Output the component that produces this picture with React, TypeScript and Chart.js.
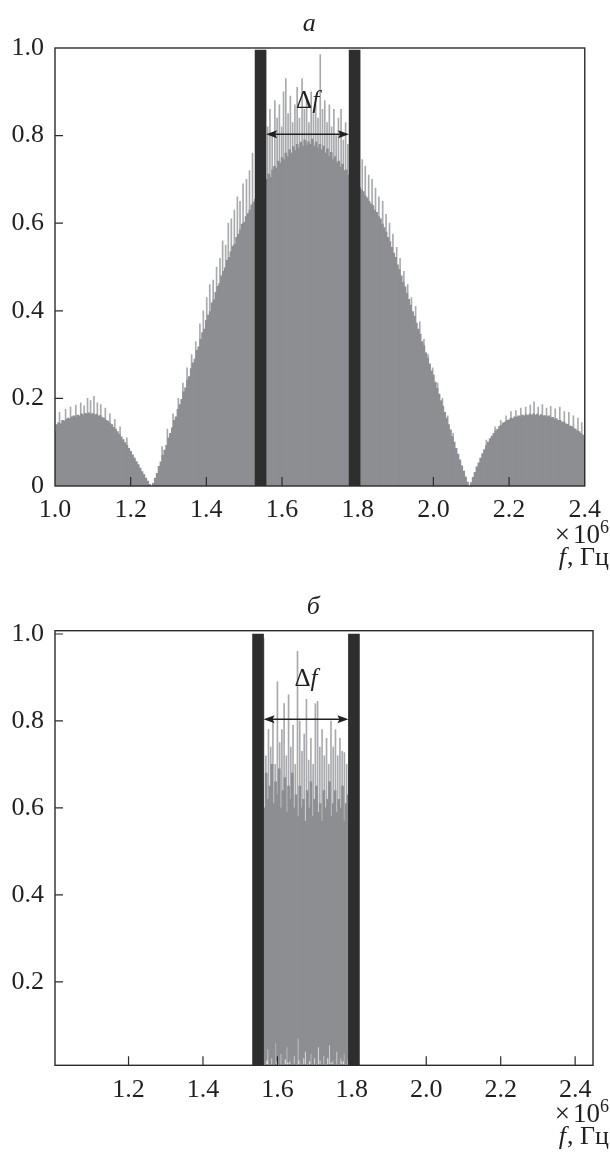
import React, { useEffect, useRef } from "react";
import { Chart, registerables } from "chart.js";

Chart.register(...registerables);

const SERIF = "'Liberation Serif', 'Times New Roman', Times, serif";
const TEXT = "#231f20";
const AXIS = "#2b2b2b";
const BODY = "#8d8e92";
const SPIKE = "#a9aaad";
const MARK = "#2e2e2e";

// ---------------- Chart a ----------------
const freqStep = 0.005;
const freqStartA = 1.0;
const bodyA_lobeLeft = [
  0.125, 0.140, 0.145, 0.142, 0.150, 0.148, 0.152, 0.155, 0.153, 0.158,
  0.160, 0.157, 0.162, 0.160, 0.165, 0.162, 0.166, 0.164, 0.167, 0.163,
  0.166, 0.162, 0.164, 0.160, 0.161, 0.156, 0.155, 0.150, 0.148, 0.143,
  0.140, 0.134, 0.130, 0.124, 0.118, 0.112, 0.106, 0.099, 0.093, 0.086,
  0.079, 0.071, 0.064, 0.056, 0.049, 0.041, 0.033, 0.026, 0.018, 0.011,
  0.004, 0.000,
];
const bodyA_riseLeft = [
  0.006, 0.018, 0.029, 0.045, 0.055, 0.070, 0.082, 0.093, 0.110, 0.120,
  0.133, 0.150, 0.158, 0.175, 0.186, 0.198, 0.215, 0.224, 0.242, 0.250,
  0.268, 0.281, 0.290, 0.310, 0.318, 0.335, 0.350, 0.358, 0.378, 0.390,
  0.398, 0.418, 0.425, 0.442, 0.456, 0.462, 0.480, 0.490, 0.498, 0.515,
  0.522, 0.535, 0.548, 0.552, 0.568, 0.575, 0.585, 0.598, 0.602, 0.615,
  0.622, 0.630, 0.642, 0.648, 0.655,
];
const bodyA_center = [
  0.662, 0.670, 0.675, 0.684, 0.690, 0.700, 0.712, 0.705, 0.722, 0.730,
  0.725, 0.742, 0.738, 0.750, 0.745, 0.760, 0.752, 0.768, 0.760, 0.775,
  0.766, 0.780, 0.772, 0.785, 0.776, 0.790, 0.778, 0.786, 0.780, 0.792,
  0.776, 0.785, 0.772, 0.780, 0.768, 0.776, 0.760, 0.770, 0.752, 0.762,
  0.745, 0.752, 0.738, 0.742, 0.728, 0.735, 0.720, 0.722, 0.710, 0.712,
  0.700, 0.702, 0.690, 0.688,
];
const bodyA_fallRight = [
  0.682, 0.676, 0.672, 0.662, 0.658, 0.650, 0.644, 0.640, 0.630, 0.625,
  0.615, 0.610, 0.598, 0.590, 0.580, 0.568, 0.558, 0.545, 0.532, 0.522,
  0.505, 0.494, 0.480, 0.465, 0.455, 0.440, 0.426, 0.413, 0.398, 0.388,
  0.372, 0.358, 0.347, 0.330, 0.320, 0.304, 0.292, 0.279, 0.263, 0.253,
  0.237, 0.223, 0.210, 0.195, 0.182, 0.168, 0.155, 0.140, 0.128, 0.113,
  0.100, 0.086, 0.073, 0.060, 0.046, 0.034, 0.021, 0.009, 0.000,
];
const bodyA_lobeRight = [
  0.008, 0.020, 0.031, 0.044, 0.053, 0.064, 0.074, 0.083, 0.092, 0.100,
  0.108, 0.114, 0.120, 0.126, 0.130, 0.136, 0.139, 0.144, 0.146, 0.150,
  0.151, 0.155, 0.154, 0.158, 0.157, 0.160, 0.158, 0.162, 0.160, 0.163,
  0.161, 0.164, 0.162, 0.165, 0.162, 0.164, 0.160, 0.163, 0.160, 0.161,
  0.158, 0.160, 0.156, 0.157, 0.153, 0.154, 0.150, 0.150, 0.146, 0.146,
  0.142, 0.141, 0.137, 0.136, 0.132, 0.130, 0.126, 0.124, 0.120, 0.116,
  0.105,
];
const bodyA = [
  ...bodyA_lobeLeft,
  ...bodyA_riseLeft,
  ...bodyA_center,
  ...bodyA_fallRight,
  ...bodyA_lobeRight,
];
// thin spikes [frequency, level]
const spikesA_lobeLeft = [
  [1.012, 0.168], [1.028, 0.175], [1.041, 0.18], [1.055, 0.185], [1.068, 0.19],
  [1.077, 0.183], [1.086, 0.2], [1.094, 0.195], [1.103, 0.205], [1.112, 0.19],
  [1.121, 0.186], [1.133, 0.178], [1.145, 0.165], [1.158, 0.152], [1.172, 0.135],
  [1.19, 0.11],
];
const spikesA_riseLeft = [
  [1.283, 0.09], [1.297, 0.13], [1.312, 0.165], [1.326, 0.2], [1.338, 0.235],
  [1.349, 0.27], [1.361, 0.3], [1.372, 0.33], [1.383, 0.37], [1.392, 0.4],
  [1.401, 0.43], [1.409, 0.46], [1.418, 0.47], [1.427, 0.5], [1.436, 0.52],
  [1.443, 0.56], [1.451, 0.55], [1.458, 0.6], [1.466, 0.61], [1.474, 0.63],
  [1.482, 0.66], [1.489, 0.65], [1.497, 0.69], [1.506, 0.7], [1.514, 0.72],
  [1.522, 0.76],
];
const spikesA_center = [
  [1.562, 0.82], [1.568, 0.86], [1.574, 0.8], [1.581, 0.88], [1.587, 0.84],
  [1.593, 0.87], [1.599, 0.82], [1.604, 0.9], [1.61, 0.93], [1.616, 0.85],
  [1.622, 0.89], [1.628, 0.83], [1.634, 0.87], [1.64, 0.91], [1.646, 0.84],
  [1.653, 0.93], [1.659, 0.86], [1.665, 0.88], [1.671, 0.83], [1.677, 0.9],
  [1.683, 0.85], [1.689, 0.87], [1.695, 0.84], [1.701, 0.985], [1.707, 0.86],
  [1.713, 0.88], [1.719, 0.83], [1.725, 0.87], [1.731, 0.82], [1.737, 0.86],
  [1.743, 0.8], [1.749, 0.84], [1.756, 0.86], [1.762, 0.79], [1.768, 0.83],
  [1.774, 0.78],
];
const spikesA_fallRight = [
  [1.812, 0.745], [1.82, 0.73], [1.829, 0.71], [1.838, 0.7], [1.847, 0.68],
  [1.856, 0.66], [1.866, 0.65], [1.875, 0.62], [1.884, 0.6], [1.893, 0.575],
  [1.903, 0.545], [1.912, 0.52], [1.922, 0.49], [1.932, 0.46], [1.942, 0.43],
  [1.953, 0.41], [1.964, 0.375], [1.975, 0.335], [1.986, 0.3], [1.998, 0.27],
  [2.011, 0.235], [2.024, 0.2], [2.038, 0.16], [2.052, 0.12],
];
const spikesA_lobeRight = [
  [2.14, 0.105], [2.163, 0.135], [2.178, 0.15], [2.192, 0.16], [2.205, 0.17],
  [2.218, 0.172], [2.231, 0.178], [2.244, 0.18], [2.256, 0.185], [2.266, 0.192],
  [2.277, 0.18], [2.288, 0.186], [2.299, 0.178], [2.31, 0.182], [2.322, 0.176],
  [2.334, 0.18], [2.346, 0.17], [2.358, 0.168], [2.37, 0.16], [2.382, 0.155],
  [2.392, 0.145],
];
const spikesA = [
  ...spikesA_lobeLeft,
  ...spikesA_riseLeft,
  ...spikesA_center,
  ...spikesA_fallRight,
  ...spikesA_lobeRight,
];
const markersA = [1.5433, 1.7918];
const markerTopA = 0.995;
const arrowLevelA = 0.803;
const deltaLabelLevelA = 0.877;
const xTicksA = [1.0, 1.2, 1.4, 1.6, 1.8, 2.0, 2.2, 2.4];
const xTickLabelsA = ["1.0", "1.2", "1.4", "1.6", "1.8", "2.0", "2.2", "2.4"];
const yTicksA = [0, 0.2, 0.4, 0.6, 0.8, 1.0];
const yTickLabelsA = ["0", "0.2", "0.4", "0.6", "0.8", "1.0"];
const xRangeA = [1.0, 2.4];
const yRangeA = [0, 1.0];

// ---------------- Chart б ----------------
const freqStartB = 1.555;
const bodyB_high = [
  0.640, 0.660, 0.600, 0.680, 0.620, 0.650, 0.700, 0.610, 0.660, 0.630,
  0.690, 0.600, 0.640, 0.670, 0.590, 0.650, 0.620, 0.680, 0.600, 0.630,
  0.580, 0.650, 0.600, 0.620, 0.570, 0.640, 0.600, 0.660, 0.580, 0.620,
  0.650, 0.590, 0.610, 0.570, 0.640, 0.600, 0.620, 0.660, 0.580, 0.610,
  0.640, 0.590, 0.620, 0.600, 0.650, 0.570, 0.610, 0.630, 0.590, 0.600,
];
const bodyB_low = [
  0.015, 0.030, 0.012, 0.020, 0.045, 0.012, 0.025, 0.012, 0.060, 0.018,
  0.012, 0.035, 0.012, 0.022, 0.050, 0.015, 0.020, 0.012, 0.030, 0.012,
  0.070, 0.020, 0.012, 0.025, 0.040, 0.012, 0.018, 0.035, 0.012, 0.025,
  0.012, 0.050, 0.020, 0.012, 0.030, 0.012, 0.025, 0.055, 0.015, 0.020,
  0.012, 0.040, 0.012, 0.025, 0.018, 0.035, 0.012, 0.020, 0.012, 0.030,
];
const spikesB = [
  [1.558, 0.76], [1.563, 0.99], [1.569, 0.72], [1.576, 0.78], [1.582, 0.74],
  [1.588, 0.8], [1.594, 0.7], [1.6, 0.89], [1.606, 0.75], [1.612, 0.78],
  [1.618, 0.84], [1.624, 0.72], [1.63, 0.86], [1.636, 0.74], [1.642, 0.79],
  [1.648, 0.7], [1.654, 0.96], [1.66, 0.8], [1.666, 0.73], [1.672, 0.77],
  [1.678, 0.85], [1.684, 0.71], [1.69, 0.76], [1.696, 0.7], [1.702, 0.84],
  [1.708, 0.845], [1.714, 0.74], [1.72, 0.78], [1.726, 0.72], [1.732, 0.76],
  [1.738, 0.7], [1.744, 0.8], [1.75, 0.74], [1.756, 0.78], [1.762, 0.72],
  [1.768, 0.76], [1.774, 0.73], [1.78, 0.727], [1.786, 0.7], [1.792, 0.69],
];
const markersB = [1.548, 1.8056];
const markerTopB = 1.0;
const arrowLevelB = 0.804;
const deltaLabelLevelB = 0.895;
const xTicksB = [1.2, 1.4, 1.6, 1.8, 2.0, 2.2, 2.4];
const xTickLabelsB = ["1.2", "1.4", "1.6", "1.8", "2.0", "2.2", "2.4"];
const yTicksB = [0.2, 0.4, 0.6, 0.8, 1.0];
const yTickLabelsB = ["0.2", "0.4", "0.6", "0.8", "1.0"];
const xRangeB = [1.0024, 2.448];
const yRangeB = [0.008, 1.0076];

type PanelCfg = {
  title: string;
  top: number;
  height: number;
  padTop: number;
  xAxisHeight: number;
  body: { x: number; y: number | number[] }[];
  spikes: { x: number; y: number }[];
  markers: number[];
  markerLow: number;
  markerTop: number;
  arrowLevel: number;
  labelLevel: number;
  xTicks: number[];
  xTickLabels: string[];
  yTicks: number[];
  yTickLabels: string[];
  xRange: number[];
  yRange: number[];
};

const MARKER_W = 11;
const FONT_SIZE = 26;

function makeDecor(cfg: PanelCfg) {
  return {
    id: "decor",
    afterDatasetsDraw(chart: any) {
      const { ctx, chartArea: ca } = chart;
      const xs = chart.scales.x;
      const ys = chart.scales.y;
      ctx.save();
      // frame
      ctx.strokeStyle = AXIS;
      ctx.lineWidth = 1.4;
      ctx.strokeRect(ca.left, ca.top, ca.right - ca.left, ca.bottom - ca.top);
      // inner ticks
      ctx.lineWidth = 1.2;
      ctx.beginPath();
      for (const t of xs.ticks) {
        const px = xs.getPixelForValue(t.value);
        if (px > ca.left + 1 && px < ca.right - 1) {
          ctx.moveTo(px, ca.bottom);
          ctx.lineTo(px, ca.bottom - 9);
        }
      }
      for (const t of ys.ticks) {
        const py = ys.getPixelForValue(t.value);
        if (py > ca.top + 1 && py < ca.bottom - 1) {
          ctx.moveTo(ca.left, py);
          ctx.lineTo(ca.left + 8, py);
        }
      }
      ctx.stroke();

      // Δf arrow between the inner edges of the two markers
      const xl = xs.getPixelForValue(cfg.markers[0]) + MARKER_W / 2;
      const xr = xs.getPixelForValue(cfg.markers[1]) - MARKER_W / 2;
      const ya = ys.getPixelForValue(cfg.arrowLevel);
      ctx.strokeStyle = TEXT;
      ctx.fillStyle = TEXT;
      ctx.lineWidth = 1.4;
      ctx.beginPath();
      ctx.moveTo(xl + 4, ya);
      ctx.lineTo(xr - 4, ya);
      ctx.stroke();
      ctx.beginPath();
      ctx.moveTo(xl, ya);
      ctx.lineTo(xl + 11, ya - 4);
      ctx.lineTo(xl + 9, ya);
      ctx.lineTo(xl + 11, ya + 4);
      ctx.closePath();
      ctx.fill();
      ctx.beginPath();
      ctx.moveTo(xr, ya);
      ctx.lineTo(xr - 11, ya - 4);
      ctx.lineTo(xr - 9, ya);
      ctx.lineTo(xr - 11, ya + 4);
      ctx.closePath();
      ctx.fill();

      // Δf label
      const yl = ys.getPixelForValue(cfg.labelLevel);
      const midX = (xl + xr) / 2;
      ctx.textBaseline = "middle";
      ctx.textAlign = "left";
      ctx.font = `25px ${SERIF}`;
      const wD = ctx.measureText("Δ").width;
      ctx.font = `italic 25px ${SERIF}`;
      const wF = ctx.measureText("f").width;
      const startX = midX - (wD + wF) / 2;
      ctx.font = `25px ${SERIF}`;
      ctx.fillText("Δ", startX, yl);
      ctx.font = `italic 25px ${SERIF}`;
      ctx.fillText("f", startX + wD, yl);

      // panel title
      ctx.textAlign = "center";
      ctx.font = `italic 26px ${SERIF}`;
      ctx.fillText(cfg.title, ca.left + 0.48 * (ca.right - ca.left), ca.top - 24);

      // axis unit label: ×10^6 and f, Гц
      const rightX = 609;
      ctx.textBaseline = "alphabetic";
      ctx.textAlign = "right";
      ctx.font = `18px ${SERIF}`;
      const w6 = ctx.measureText("6").width;
      ctx.fillText("6", rightX, ca.bottom + 47);
      ctx.font = `27px ${SERIF}`;
      const w10 = ctx.measureText("10").width;
      ctx.fillText("10", rightX - w6, ca.bottom + 57);
      ctx.fillText("×", rightX - w6 - w10 - 3, ca.bottom + 57);
      ctx.font = `${FONT_SIZE}px ${SERIF}`;
      const wRest = ctx.measureText(", Гц").width;
      ctx.fillText(", Гц", rightX, ca.bottom + 79);
      ctx.font = `italic ${FONT_SIZE}px ${SERIF}`;
      ctx.fillText("f", rightX - wRest - 1, ca.bottom + 79);
      ctx.restore();
    },
  };
}

function Panel({ cfg }: { cfg: PanelCfg }) {
  const ref = useRef<HTMLCanvasElement | null>(null);
  useEffect(() => {
    if (!ref.current) return;
    const tickFont = { family: SERIF, size: FONT_SIZE };
    const chart = new Chart(ref.current, {
      type: "bar",
      data: {
        datasets: [
          {
            label: "markers",
            data: cfg.markers.map((m) => ({ x: m, y: [cfg.markerLow, cfg.markerTop] })),
            backgroundColor: MARK,
            barThickness: MARKER_W,
            grouped: false,
            borderWidth: 0,
            order: 0,
          } as any,
          {
            label: "body",
            data: cfg.body as any,
            backgroundColor: BODY,
            barThickness: 2,
            grouped: false,
            borderWidth: 0,
            order: 1,
          } as any,
          {
            label: "spikes",
            data: cfg.spikes as any,
            backgroundColor: SPIKE,
            barThickness: 1,
            grouped: false,
            borderWidth: 0,
            order: 2,
          } as any,
        ],
      },
      options: {
        animation: false,
        responsive: false,
        events: [],
        layout: { padding: { left: 0, right: 17, top: cfg.padTop, bottom: 0 } },
        plugins: { legend: { display: false }, tooltip: { enabled: false } },
        scales: {
          x: {
            type: "linear",
            min: cfg.xRange[0],
            max: cfg.xRange[1],
            offset: false,
            grid: { display: false, drawTicks: false },
            border: { display: false },
            ticks: {
              font: tickFont,
              color: TEXT,
              padding: 9,
              maxRotation: 0,
              autoSkip: false,
              callback: (_v: any, i: number) => cfg.xTickLabels[i],
            },
            afterBuildTicks: (s: any) => {
              s.ticks = cfg.xTicks.map((v) => ({ value: v }));
            },
            afterFit: (s: any) => {
              s.height = cfg.xAxisHeight;
            },
          },
          y: {
            type: "linear",
            min: cfg.yRange[0],
            max: cfg.yRange[1],
            grid: { display: false, drawTicks: false },
            border: { display: false },
            ticks: {
              font: tickFont,
              color: TEXT,
              padding: 11,
              callback: (_v: any, i: number) => cfg.yTickLabels[i],
            },
            afterBuildTicks: (s: any) => {
              s.ticks = cfg.yTicks.map((v) => ({ value: v }));
            },
            afterFit: (s: any) => {
              s.width = 55;
            },
          },
        },
      } as any,
      plugins: [makeDecor(cfg)],
    });
    return () => chart.destroy();
  }, [cfg]);
  return (
    <canvas
      ref={ref}
      width={610}
      height={cfg.height}
      style={{ position: "absolute", left: 0, top: cfg.top, width: 610, height: cfg.height }}
    />
  );
}

const toSpikes = (list: number[][]) => list.map(([f, v]) => ({ x: f, y: v }));

const cfgA: PanelCfg = {
  title: "a",
  top: 0,
  height: 578,
  padTop: 48,
  xAxisHeight: 92,
  body: bodyA.map((v, i) => ({ x: freqStartA + i * freqStep, y: v })),
  spikes: toSpikes(spikesA),
  markers: markersA,
  markerLow: yRangeA[0],
  markerTop: markerTopA,
  arrowLevel: arrowLevelA,
  labelLevel: deltaLabelLevelA,
  xTicks: xTicksA,
  xTickLabels: xTickLabelsA,
  yTicks: yTicksA,
  yTickLabels: yTickLabelsA,
  xRange: xRangeA,
  yRange: yRangeA,
};

const cfgB: PanelCfg = {
  title: "б",
  top: 578,
  height: 578,
  padTop: 52.7,
  xAxisHeight: 90.7,
  body: bodyB_high.map((v, i) => ({ x: freqStartB + i * freqStep, y: [bodyB_low[i], v] })),
  spikes: toSpikes(spikesB),
  markers: markersB,
  markerLow: yRangeB[0],
  markerTop: markerTopB,
  arrowLevel: arrowLevelB,
  labelLevel: deltaLabelLevelB,
  xTicks: xTicksB,
  xTickLabels: xTickLabelsB,
  yTicks: yTicksB,
  yTickLabels: yTickLabelsB,
  xRange: xRangeB,
  yRange: yRangeB,
};

export default function App() {
  return (
    <div style={{ position: "absolute", left: 0, top: 0, width: 610, height: 1156, background: "#fff" }}>
      <Panel cfg={cfgA} />
      <Panel cfg={cfgB} />
    </div>
  );
}
